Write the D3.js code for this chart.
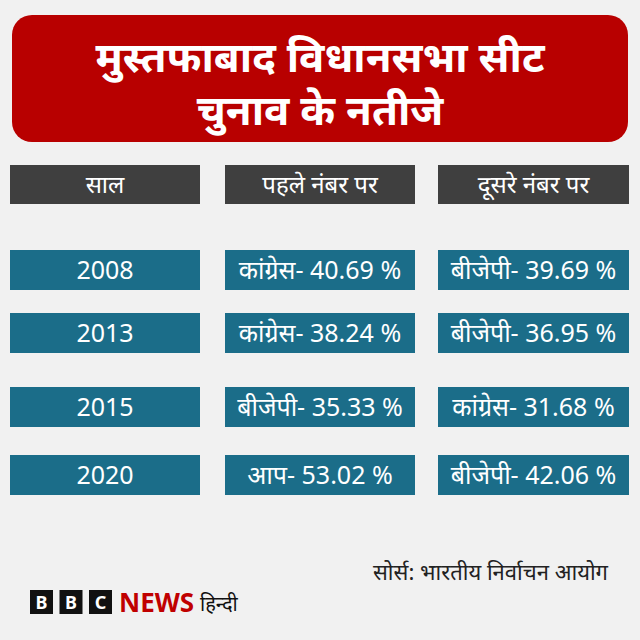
<!DOCTYPE html>
<html><head><meta charset="utf-8">
<script src="https://cdn.jsdelivr.net/npm/d3@7"></script>
<style>body{margin:0;background:#f1f1f1}</style>
</head><body>
<svg id="chart" width="640" height="640"></svg>
<script>
var titleLines = ["मुस्तफाबाद विधानसभा सीट", "चुनाव के नतीजे"];
var headers = ["साल", "पहले नंबर पर", "दूसरे नंबर पर"];
var years = ["2008", "2013", "2015", "2020"];
var firstParty = ["कांग्रेस", "कांग्रेस", "बीजेपी", "आप"];
var firstShare = [40.69, 38.24, 35.33, 53.02];
var secondParty = ["बीजेपी", "बीजेपी", "कांग्रेस", "बीजेपी"];
var secondShare = [39.69, 36.95, 31.68, 42.06];
var rowTops = [250, 313, 387, 455];
var source = "सोर्स: भारतीय निर्वाचन आयोग";

var font = "'Noto Sans', sans-serif";
var svg = d3.select("#chart");
svg.append("rect").attr("width", 640).attr("height", 640).attr("fill", "#f1f1f1");

// title
svg.append("rect").attr("x", 12).attr("y", 15).attr("width", 616).attr("height", 127)
    .attr("rx", 20).attr("fill", "#b80000");
svg.selectAll("text.title").data(titleLines).enter().append("text")
    .attr("x", 320).attr("y", function(d, i) { return 72 + i * 53; })
    .attr("text-anchor", "middle").attr("fill", "#fff")
    .attr("font-family", font).attr("font-weight", "bold").attr("font-size", 42)
    .text(function(d) { return d; });

var cols = [{x: 10, w: 190}, {x: 225, w: 190}, {x: 438, w: 191}];

// header row
cols.forEach(function(c, i) {
    svg.append("rect").attr("x", c.x).attr("y", 165).attr("width", c.w).attr("height", 39).attr("fill", "#3f3f3f");
    svg.append("text").attr("x", c.x + c.w / 2).attr("y", 193).attr("text-anchor", "middle")
        .attr("fill", "#fff").attr("font-family", font).attr("font-size", 24).text(headers[i]);
});

// data rows
years.forEach(function(y, r) {
    var cells = [y, firstParty[r] + "- " + firstShare[r].toFixed(2) + " %", secondParty[r] + "- " + secondShare[r].toFixed(2) + " %"];
    cols.forEach(function(c, i) {
        svg.append("rect").attr("x", c.x).attr("y", rowTops[r]).attr("width", c.w).attr("height", 40).attr("fill", "#1b6d89");
        svg.append("text").attr("x", c.x + c.w / 2).attr("y", rowTops[r] + 29).attr("text-anchor", "middle")
            .attr("fill", "#fff").attr("font-family", font).attr("font-size", 25).text(cells[i]);
    });
});

// source
svg.append("text").attr("x", 608).attr("y", 580).attr("text-anchor", "end")
    .attr("fill", "#222").attr("font-family", font).attr("font-size", 22).text(source);

// logo
["B", "B", "C"].forEach(function(l, i) {
    var x = 30 + i * 29.5;
    svg.append("rect").attr("x", x).attr("y", 590).attr("width", 23).attr("height", 24).attr("fill", "#111");
    svg.append("text").attr("x", x + 11.5).attr("y", 609).attr("text-anchor", "middle").attr("fill", "#fff")
        .attr("font-family", font).attr("font-weight", "bold").attr("font-size", 18).text(l);
});
svg.append("text").attr("x", 119).attr("y", 612).attr("fill", "#c00000").attr("font-family", font)
    .attr("font-weight", "bold").attr("font-size", 26).text("NEWS");
svg.append("text").attr("x", 200).attr("y", 611).attr("fill", "#111").attr("font-family", font)
    .attr("font-size", 20).text("हिन्दी");
</script>
</body></html>
